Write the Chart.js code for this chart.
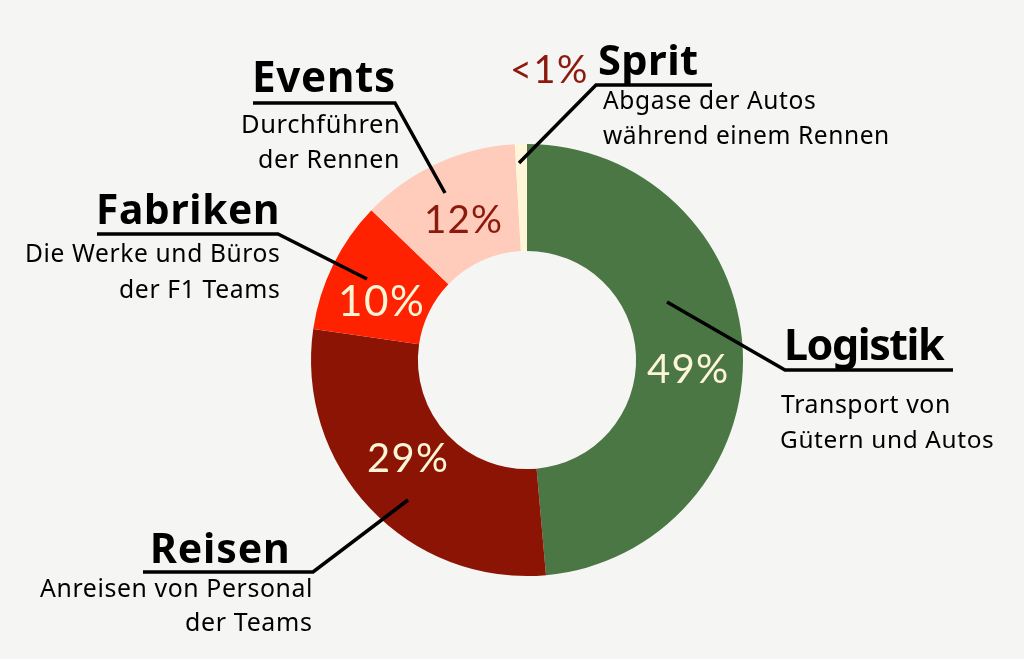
<!DOCTYPE html>
<html>
<head>
<meta charset="utf-8">
<script src="https://cdn.jsdelivr.net/npm/chart.js@4.4.1/dist/chart.umd.min.js"></script>
<style>
  html, body { margin: 0; padding: 0; background: #f5f5f3; }
  canvas { display: block; }
</style>
</head>
<body>
<canvas id="c" width="1024" height="659"></canvas>
<script>
// ---- data ----
const categories = ['Logistik', 'Reisen', 'Fabriken', 'Events', 'Sprit'];
const shares = [48.6, 28.7, 9.9, 11.9, 0.9];
const descriptions = [
  ['Transport von', 'Gütern und Autos'],
  ['Anreisen von Personal', 'der Teams'],
  ['Die Werke und Büros', 'der F1 Teams'],
  ['Durchführen', 'der Rennen'],
  ['Abgase der Autos', 'während einem Rennen']
];
const sliceColors = ['#4b7744', '#8b1405', '#ff2200', '#ffcbbb', '#fff6da'];
const pctColors = ['#fdf5d6', '#fdf5d6', '#fdf5d6', '#8b1a0c', '#8b1a0c'];

// ---- annotation layout (positions only) ----
const pctBox = [ // x0, x1, baseline, digit height
  [647, 727, 383, 28.3],
  [368, 447, 472, 26.7],
  [341, 422, 316, 28],
  [427, 501, 233, 27.3],
  [513, 586, 83, 28]
];
const headBox = [ // x0, x1, baseline, cap height
  [787, 945, 360, 31],
  [153, 287, 563, 27.7],
  [99, 277, 224, 26],
  [255, 394, 92, 26],
  [599, 697, 75, 30]
];
const descBox = [ // per line: x0, x1, baseline
  [[781, 949, 413], [781, 993, 448]],
  [[40, 311, 597], [186, 311, 631]],
  [[27, 279, 262], [120, 279, 298]],
  [[243, 398, 133], [259, 398, 168]],
  [[603, 815, 109], [603, 888, 144]]
];
const leaders = [
  [[667, 302], [785, 370], [953, 370]],
  [[408, 500], [313, 572], [143, 572]],
  [[367, 279], [278, 234], [97, 234]],
  [[445, 193], [395, 103], [253, 103]],
  [[519, 163], [596, 85], [712, 85]]
];

function refHeight(ctx, font, glyph) {
  ctx.font = font.replace('{s}', '100');
  const m = ctx.measureText(glyph);
  return m.actualBoundingBoxAscent / 100;
}

function fitText(ctx, text, x0, x1, baseline, h, family, weight, color, glyph, lsMax) {
  const fontT = weight + ' {s}px ' + family;
  const ratio = refHeight(ctx, fontT, glyph);
  let size = h / ratio;
  ctx.letterSpacing = '0px';
  ctx.font = fontT.replace('{s}', size.toFixed(2));
  let m = ctx.measureText(text);
  let ink = m.actualBoundingBoxLeft + m.actualBoundingBoxRight;
  const target = x1 - x0;
  const n = Math.max(text.length - 1, 1);
  let ls = (target - ink) / n;
  if (ls > lsMax || ls < -1.5) {
    const lsC = Math.max(-1.5, Math.min(lsMax, ls));
    size = size * (target - lsC * n) / ink;
    ctx.font = fontT.replace('{s}', size.toFixed(2));
    m = ctx.measureText(text);
    ink = m.actualBoundingBoxLeft + m.actualBoundingBoxRight;
    ls = (target - ink) / n;
  }
  ctx.letterSpacing = ls.toFixed(2) + 'px';
  m = ctx.measureText(text);
  ctx.fillStyle = color;
  ctx.textAlign = 'left';
  ctx.textBaseline = 'alphabetic';
  ctx.fillText(text, x0 + m.actualBoundingBoxLeft, baseline);
  ctx.letterSpacing = '0px';
}

const annotations = {
  id: 'annotations',
  afterDraw(chart) {
    const ctx = chart.ctx;
    ctx.save();
    // leader lines
    ctx.strokeStyle = '#000';
    ctx.lineWidth = 3.5;
    ctx.lineJoin = 'miter';
    ctx.lineCap = 'butt';
    leaders.forEach(pts => {
      ctx.beginPath();
      ctx.moveTo(pts[0][0], pts[0][1]);
      for (let i = 1; i < pts.length; i++) ctx.lineTo(pts[i][0], pts[i][1]);
      ctx.stroke();
    });
    categories.forEach((cat, i) => {
      const v = shares[i];
      const pct = v < 1 ? '<1%' : Math.round(v) + '%';
      const pb = pctBox[i];
      fitText(ctx, pct, pb[0], pb[1], pb[2], pb[3], 'Lato, "Open Sans", sans-serif', 'normal', pctColors[i], '0', 1.5);
      const hb = headBox[i];
      fitText(ctx, cat, hb[0], hb[1], hb[2], hb[3], '"Noto Sans", "Open Sans", sans-serif', 'bold', '#000', 'H', 0.8);
      descriptions[i].forEach((line, j) => {
        const d = descBox[i][j];
        fitText(ctx, line, d[0], d[1], d[2], 16.8, '"Noto Sans", "Open Sans", sans-serif', 'normal', '#000', 'H', 0.6);
      });
    });
    ctx.restore();
  }
};

new Chart(document.getElementById('c'), {
  type: 'doughnut',
  data: {
    labels: categories,
    datasets: [{
      data: shares,
      backgroundColor: sliceColors,
      borderWidth: 0,
      hoverOffset: 0
    }]
  },
  options: {
    responsive: false,
    animation: false,
    cutout: '50.5%',
    rotation: 0,
    layout: { padding: { left: 311, right: 281, top: 144, bottom: 83 } },
    plugins: {
      legend: { display: false },
      tooltip: { enabled: false }
    }
  },
  plugins: [annotations]
});
</script>
</body>
</html>
